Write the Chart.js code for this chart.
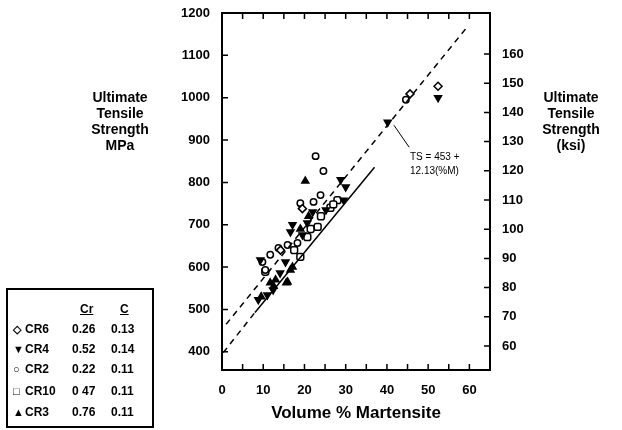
<!DOCTYPE html>
<html>
<head>
<meta charset="utf-8">
<script src="https://cdn.jsdelivr.net/npm/chart.js@4/dist/chart.umd.min.js"></script>
<style>
  body { margin: 0; background: #fff; }
  #wrap { position: relative; width: 622px; height: 430px; font-family: "Liberation Sans", Arial, sans-serif; color: #000; }
  #chart { position: absolute; left: 0; top: 0; }
  .side { position: absolute; width: 110px; text-align: center; font-weight: bold; font-size: 14px; line-height: 16px; }
  .xtitle { position: absolute; left: 222px; width: 268px; top: 403px; text-align: center; font-weight: bold; font-size: 17px; }
  .note { position: absolute; font-size: 10px; line-height: 14px; }
  #legend { position: absolute; left: 6px; top: 288px; width: 144px; height: 136px; border: 2px solid #000; font-weight: bold; font-size: 12px; }
  #legend span { position: absolute; }
  #legend .h { text-decoration: underline; }
</style>
</head>
<body>
<div id="wrap">
  <canvas id="chart" width="622" height="430"></canvas>
  <div class="side" style="left: 65px; top: 89px;">Ultimate<br>Tensile<br>Strength<br>MPa</div>
  <div class="side" style="left: 516px; top: 89px;">Ultimate<br>Tensile<br>Strength<br>(ksi)</div>
  <div class="xtitle">Volume % Martensite</div>
  <div class="note" style="left: 410px; top: 150px;">TS = 453 +<br>12.13(%M)</div>
  <div id="legend"></div>
</div>
<script>
// axis ticks
const xTicks = [0, 10, 20, 30, 40, 50, 60];
const mpaTicks = [400, 500, 600, 700, 800, 900, 1000, 1100, 1200];
const ksiTicks = [60, 70, 80, 90, 100, 110, 120, 130, 140, 150, 160];

// steels (legend table)
const steels = ['CR6', 'CR4', 'CR2', 'CR10', 'CR3'];
const crContent = ['0.26', '0.52', '0.22', '0 47', '0.76'];
const cContent = ['0.13', '0.14', '0.11', '0.11', '0.11'];

// volume % martensite / UTS (MPa) per steel
const cr6M = [52.4, 45.6, 19.5, 14.2];
const cr6TS = [1027, 1009, 738, 640];
const cr4M = [52.4, 40.2, 28.8, 30.0, 29.5, 17.1, 22.0, 19.5, 16.6, 14.1, 12.4, 11.0, 8.8, 9.3, 15.4, 20.7, 25.2];
const cr4TS = [1000, 942, 806, 789, 758, 700, 730, 676, 683, 586, 546, 534, 523, 617, 612, 704, 735];
const cr2M = [44.6, 22.7, 24.6, 11.7, 9.8, 13.7, 10.5, 15.9, 19.0, 23.9, 18.3, 22.2];
const cr2TS = [995, 862, 827, 629, 612, 645, 593, 652, 751, 770, 657, 754];
const cr10M = [10.5, 26.3, 28.0, 27.0, 20.7, 21.5, 23.2, 17.5, 19.0, 24.0];
const cr10TS = [589, 740, 758, 748, 671, 690, 695, 640, 624, 720];
const cr3M = [20.2, 16.6, 17.1, 11.7, 15.9, 12.5, 13.0, 19.0, 21.0, 9.5, 15.6];
const cr3TS = [803, 593, 600, 563, 565, 555, 570, 690, 720, 530, 563];

// fit lines, end points
const upperFitM = [1, 59.3];
const upperFitTS = [465, 1165];
const lowerDashM = [0.3, 8];
const lowerDashTS = [398, 493];
const lowerSolidM = [8, 37];
const lowerSolidTS = [493, 836];
const leaderM = [41.7, 45.4];
const leaderTS = [935, 883];

const MPA_PER_KSI = 6.895;
const yMin = 357, yMax = 1200;

function pts(xs, ys) {
  return xs.map((x, i) => ({ x: x, y: ys[i] }));
}

function markers(label, xs, ys, style, filled, rotation) {
  return {
    type: 'scatter',
    label: label,
    data: pts(xs, ys),
    pointStyle: style,
    rotation: rotation || 0,
    pointRadius: style === 'circle' ? 3.2 : 4,
    borderColor: '#000',
    borderWidth: 1.5,
    backgroundColor: filled ? '#000' : '#fff'
  };
}

function fitLine(xs, ys, dash, width) {
  return {
    type: 'line',
    data: pts(xs, ys),
    borderColor: '#000',
    borderWidth: width,
    borderDash: dash,
    pointRadius: 0,
    fill: false
  };
}

// legend box
const legend = document.getElementById('legend');
const symbols = ['\u25C7', '\u25BC', '\u25CB', '\u25A1', '\u25B2'];
let html = '<span class="h" style="left: 72px; top: 12px;">Cr</span>' +
           '<span class="h" style="left: 112px; top: 12px;">C</span>';
steels.forEach((s, i) => {
  const top = [32, 52, 72, 94, 115][i];
  html += `<span style="left: 5px; top: ${top}px; font-size: 11px; line-height: 14px;">${symbols[i]}</span>`;
  html += `<span style="left: 17px; top: ${top}px;">${s}</span>`;
  html += `<span style="left: 64px; top: ${top}px;">${crContent[i]}</span>`;
  html += `<span style="left: 103px; top: ${top}px;">${cContent[i]}</span>`;
});
legend.innerHTML = html;

// frame and inward tick marks
const framePlugin = {
  id: 'frame',
  afterDatasetsDraw(chart) {
    const { ctx, chartArea: a, scales } = chart;
    ctx.save();
    ctx.strokeStyle = '#000';
    ctx.lineWidth = 2;
    ctx.strokeRect(a.left, a.top, a.right - a.left, a.bottom - a.top);
    ctx.lineWidth = 1.5;
    ctx.beginPath();
    for (let v = 5; v <= 60; v += 5) {
      const px = scales.x.getPixelForValue(v);
      ctx.moveTo(px, a.bottom); ctx.lineTo(px, a.bottom - 6);
      ctx.moveTo(px, a.top); ctx.lineTo(px, a.top + 6);
    }
    mpaTicks.forEach(v => {
      const py = scales.y.getPixelForValue(v);
      ctx.moveTo(a.left, py); ctx.lineTo(a.left + 6, py);
    });
    ksiTicks.forEach(v => {
      const py = scales.y2.getPixelForValue(v);
      ctx.moveTo(a.right, py); ctx.lineTo(a.right - 6, py);
    });
    ctx.stroke();
    ctx.restore();
  }
};

const tickFont = { family: '"Liberation Sans", Arial, sans-serif', size: 13, weight: 'bold' };
const plain = v => String(v);

new Chart(document.getElementById('chart'), {
  type: 'scatter',
  data: {
    datasets: [
      fitLine(upperFitM, upperFitTS, [6, 5], 1.5),
      fitLine(lowerDashM, lowerDashTS, [6, 5], 1.5),
      fitLine(lowerSolidM, lowerSolidTS, [], 1.5),
      fitLine(leaderM, leaderTS, [], 1),
      markers('CR6', cr6M, cr6TS, 'rectRot', false),
      markers('CR4', cr4M, cr4TS, 'triangle', true, 180),
      markers('CR2', cr2M, cr2TS, 'circle', false),
      markers('CR10', cr10M, cr10TS, 'rectRounded', false),
      markers('CR3', cr3M, cr3TS, 'triangle', true)
    ]
  },
  options: {
    responsive: false,
    devicePixelRatio: 1,
    animation: false,
    layout: { padding: { top: 13, left: 0, right: 0, bottom: 0 } },
    plugins: {
      legend: { display: false },
      tooltip: { enabled: false }
    },
    scales: {
      x: {
        type: 'linear',
        min: 0,
        max: 65,
        grid: { display: false },
        border: { display: false },
        afterBuildTicks: s => { s.ticks = xTicks.map(v => ({ value: v })); },
        afterFit: s => { s.height = 60; },
        ticks: { color: '#000', font: tickFont, padding: 5, maxRotation: 0, callback: plain }
      },
      y: {
        type: 'linear',
        position: 'left',
        min: yMin,
        max: yMax,
        grid: { display: false },
        border: { display: false },
        afterBuildTicks: s => { s.ticks = mpaTicks.map(v => ({ value: v })); },
        afterFit: s => { s.width = 222; },
        ticks: { color: '#000', font: tickFont, padding: 4, callback: plain }
      },
      y2: {
        type: 'linear',
        position: 'right',
        min: yMin / MPA_PER_KSI,
        max: yMax / MPA_PER_KSI,
        grid: { display: false },
        border: { display: false },
        afterBuildTicks: s => { s.ticks = ksiTicks.map(v => ({ value: v })); },
        afterFit: s => { s.width = 132; },
        ticks: { color: '#000', font: tickFont, padding: 4, callback: plain }
      }
    }
  },
  plugins: [framePlugin]
});
</script>
</body>
</html>
